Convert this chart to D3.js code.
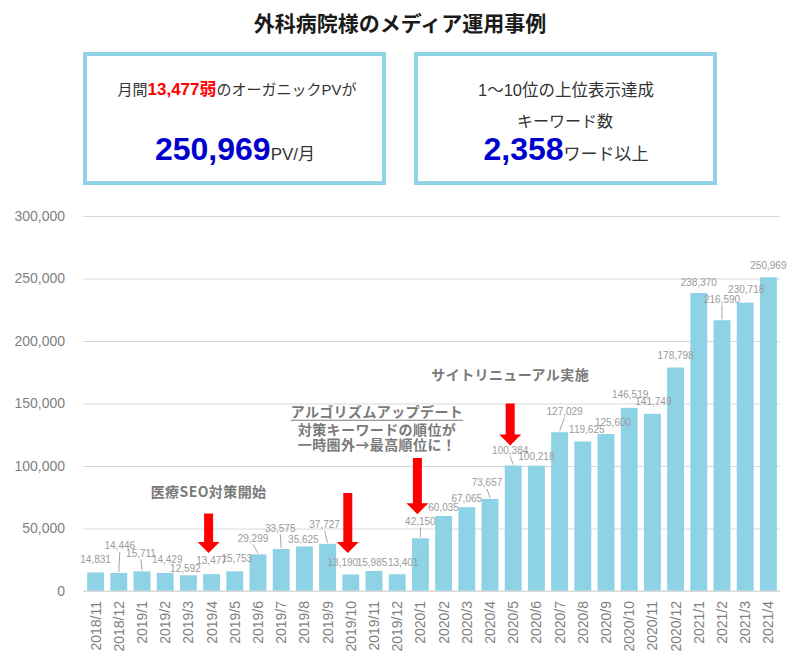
<!DOCTYPE html>
<html>
<head>
<meta charset="utf-8">
<script src="https://cdn.jsdelivr.net/npm/d3@7"></script>
<style>
  body { margin: 0; background: #fff; }
  svg text { font-family: "Liberation Sans", "Noto Sans CJK JP", sans-serif; }
</style>
</head>
<body>
<svg id="chart"></svg>
<script>
// Monthly organic page views.
const months = [
  "2018/11", "2018/12", "2019/1", "2019/2", "2019/3", "2019/4", "2019/5", "2019/6",
  "2019/7", "2019/8", "2019/9", "2019/10", "2019/11", "2019/12", "2020/1", "2020/2",
  "2020/3", "2020/4", "2020/5", "2020/6", "2020/7", "2020/8", "2020/9", "2020/10",
  "2020/11", "2020/12", "2021/1", "2021/2", "2021/3", "2021/4"
];
const pageViews = [
  14831, 14446, 15711, 14429, 12592, 13477, 15753, 29299,
  33575, 35625, 37727, 13190, 15985, 13401, 42150, 60035,
  67065, 73657, 100384, 100218, 127029, 119625, 125600, 146519,
  141749, 178798, 238370, 216590, 230718, 250969
];
const yTicks = [0, 50000, 100000, 150000, 200000, 250000, 300000];

// Where each value label sits relative to the top of its bar (px), like the hand-moved labels in the original.
const labelOffsets = [
  [0, -13], [1, -27], [-1, -18], [2, -13], [-3, -7], [0, -14], [2, -13], [-5, -16],
  [-1, -21], [-1, -7], [-3, -19], [-8, -12], [-2, -9], [6, -12], [0, -17], [0, -8],
  [0, -9], [-3, -16], [-3, -15], [0, -9], [5, -21], [4, -12], [7, -12], [1, -13],
  [1, -12], [0, -12], [0, -11], [0, -21], [1, -13], [0, -12]
];

// Red arrows marking events, given in chart units.
const arrows = [
  {month: "2019/4", from: 62000, to: 30500},
  {month: "2019/10", from: 78500, to: 30500},
  {month: "2020/1", from: 106500, to: 61500},
  {month: "2020/5", from: 150000, to: 116500}
];

// Event notes drawn above the bars.
const notes = [
  {month: "2019/4", value: 79000, lines: ["医療SEO対策開始"], underline: false},
  {month: "2019/11", value: 143000, lines: ["アルゴリズムアップデート"], underline: true},
  {month: "2019/11", value: 128500, lines: ["対策キーワードの順位が"], underline: false},
  {month: "2019/11", value: 116500, lines: ["一時圏外→最高順位に！"], underline: false},
  {month: "2020/5", value: 172500, lines: ["サイトリニューアル実施"], underline: false}
];

const width = 792, height = 664;
const margin = {top: 216, right: 12, bottom: 73, left: 84};

const svg = d3.select("#chart")
  .attr("width", width)
  .attr("height", height);

// Title and the two summary boxes.
svg.append("text")
  .attr("x", 400).attr("y", 31)
  .attr("text-anchor", "middle")
  .style("font-family", "'Noto Sans CJK JP', sans-serif")
  .style("font-size", "21px").style("font-weight", "bold")
  .style("fill", "#1a1a1a")
  .text("外科病院様のメディア運用事例");

[85, 416].forEach(function(x) {
  svg.append("rect")
    .attr("x", x).attr("y", 54)
    .attr("width", 299).attr("height", 129)
    .style("fill", "#fff")
    .style("stroke", "#8fd3e4")
    .style("stroke-width", 4);
});

function addLine(x, y, parts) {
  let t = svg.append("text")
    .attr("x", x).attr("y", y)
    .attr("text-anchor", "middle");
  parts.forEach(function(p) {
    t.append("tspan")
      .style("font-size", p.size + "px")
      .style("font-weight", p.bold ? "bold" : "normal")
      .style("fill", p.color)
      .text(p.text);
  });
}

addLine(237, 95, [
  {text: "月間", size: 15, color: "#333"},
  {text: "13,477弱", size: 17, color: "#ff0000", bold: true},
  {text: "のオーガニックPVが", size: 15, color: "#333"}
]);
addLine(235, 160, [
  {text: "250,969", size: 32, color: "#0000cc", bold: true},
  {text: "PV/月", size: 17, color: "#333"}
]);
addLine(566, 96, [{text: "1〜10位の上位表示達成", size: 16.5, color: "#333"}]);
addLine(565, 127, [{text: "キーワード数", size: 16, color: "#333"}]);
addLine(566, 160, [
  {text: "2,358", size: 32, color: "#0000cc", bold: true},
  {text: "ワード以上", size: 17, color: "#333"}
]);

// Scales.
const x = d3.scaleBand()
  .domain(months)
  .range([margin.left, width - margin.right])
  .paddingInner(0.27)
  .paddingOuter(0.135);

const y = d3.scaleLinear()
  .domain([0, 300000])
  .range([height - margin.bottom, margin.top]);

// Gridlines and the y labels.
const yAxis = svg.append("g")
  .attr("transform", "translate(" + (margin.left - 1) + ",0)")
  .call(d3.axisLeft(y).tickValues(yTicks).tickSize(-(width - margin.right - margin.left + 1))
    .tickPadding(18).tickFormat(d3.format(",")));
yAxis.select(".domain").remove();
yAxis.selectAll("line").style("stroke", "#d9d9d9");
yAxis.selectAll("text")
  .style("font-size", "14px")
  .style("fill", "#7f7f7f");

// Bars.
svg.append("g")
  .selectAll("rect")
  .data(pageViews)
  .join("rect")
  .attr("x", (d, i) => x(months[i]))
  .attr("y", d => y(d))
  .attr("width", x.bandwidth())
  .attr("height", d => y(0) - y(d))
  .style("fill", "#8ed3e5");

// Month labels, rotated.
const xAxis = svg.append("g")
  .attr("transform", "translate(0," + y(0) + ")")
  .call(d3.axisBottom(x).tickSize(0).tickPadding(0));
xAxis.select(".domain").style("stroke", "#d9d9d9").attr("d", "M" + (margin.left - 1) + ",0H" + (width - margin.right));
xAxis.selectAll("text")
  .attr("transform", "rotate(-90)")
  .attr("text-anchor", "end")
  .attr("x", -10).attr("y", 0).attr("dy", "0.35em")
  .style("font-size", "14px")
  .style("fill", "#7f7f7f");

// Value labels, with leader lines when the label was moved away from the bar.
const labels = svg.append("g");
pageViews.forEach(function(v, i) {
  let cx = x(months[i]) + x.bandwidth() / 2;
  let top = y(v);
  let lx = cx + labelOffsets[i][0];
  let ly = top + labelOffsets[i][1];
  if (labelOffsets[i][1] <= -15) {
    labels.append("line")
      .attr("x1", lx).attr("y1", ly + 6)
      .attr("x2", cx).attr("y2", top - 1)
      .style("stroke", "#a6a6a6")
      .style("stroke-width", 1);
  }
  labels.append("text")
    .attr("x", lx).attr("y", ly)
    .attr("dy", "0.35em")
    .attr("text-anchor", "middle")
    .style("font-size", "10px")
    .style("fill", "#9a9a9a")
    .text(d3.format(",")(v));
});

// Red arrows.
arrows.forEach(function(a) {
  let cx = x(a.month) + x.bandwidth() / 2 - 3;
  let y0 = y(a.from), y1 = y(a.to);
  let head = 11;
  svg.append("path")
    .attr("d", "M" + (cx - 4.5) + "," + y0 + "H" + (cx + 4.5) + "V" + (y1 - head) +
      "H" + (cx + 11) + "L" + cx + "," + y1 + "L" + (cx - 11) + "," + (y1 - head) +
      "H" + (cx - 4.5) + "Z")
    .style("fill", "#ff0000");
});

// Event notes.
notes.forEach(function(n) {
  let cx = x(n.month) + x.bandwidth() / 2 + (n.underline || n.lines[0].indexOf("対策キ") == 0 || n.lines[0].indexOf("一時") == 0 ? 3 : -3);
  let t = svg.append("text")
    .attr("x", cx).attr("y", y(n.value))
    .attr("dy", "0.35em")
    .attr("text-anchor", "middle")
    .style("font-family", "'Noto Sans CJK JP', sans-serif")
    .style("font-size", "14px")
    .style("font-weight", "bold")
    .style("letter-spacing", "0.4px")
    .style("fill", "#7a7a7a")
    .text(n.lines[0]);
  if (n.underline) {
    let b = t.node().getBBox();
    svg.append("line")
      .attr("x1", b.x).attr("x2", b.x + b.width)
      .attr("y1", y(n.value) + 8).attr("y2", y(n.value) + 8)
      .style("stroke", "#7a7a7a")
      .style("stroke-width", 1.2);
  }
});
</script>
</body>
</html>
